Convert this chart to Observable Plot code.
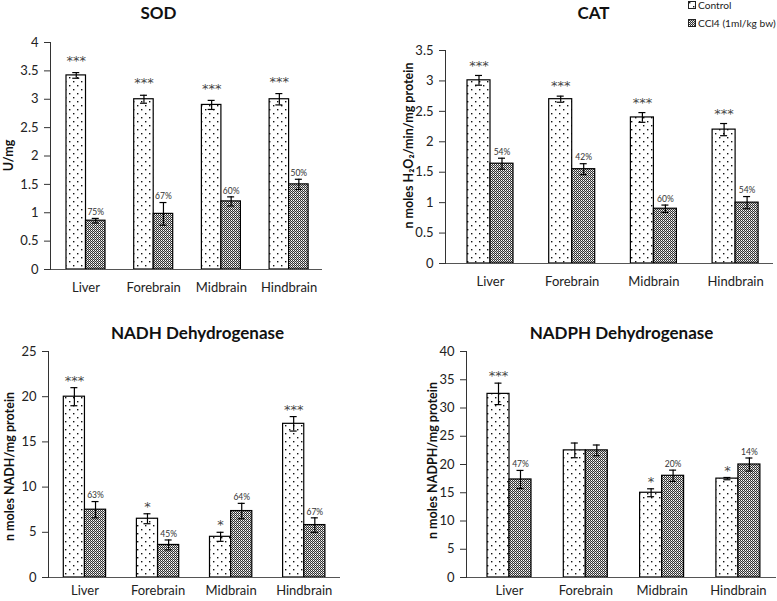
<!DOCTYPE html>
<html>
<head>
<meta charset="utf-8">
<script src="https://cdn.jsdelivr.net/npm/d3@7"></script>
<script src="https://cdn.jsdelivr.net/npm/@observablehq/plot@0.6"></script>
<style>
  html, body { margin: 0; padding: 0; background: #fff; }
  #root { position: relative; width: 777px; height: 601px; overflow: hidden; font-family: Lato, sans-serif; }
  .panel { position: absolute; }
  .legend { position: absolute; left: 688px; top: -4px; font-size: 10.2px; color: #222; line-height: 18px; }
  .legend div { display: flex; align-items: center; white-space: nowrap; }
  .legend svg { margin-right: 2px; }
</style>
</head>
<body>
<svg width="0" height="0" style="position:absolute">
  <defs>
    <pattern id="dots" patternUnits="userSpaceOnUse" width="8" height="8">
      <rect width="8" height="8" fill="#fff"/>
      <rect x="1" y="1" width="1.4" height="1.4" fill="#111"/>
      <rect x="5" y="5" width="1.4" height="1.4" fill="#111"/>
    </pattern>
    <pattern id="checks" patternUnits="userSpaceOnUse" width="2" height="2">
      <rect width="2" height="2" fill="#333"/>
      <rect x="1" y="0" width="1" height="1" fill="#fff"/>
      <rect x="0" y="1" width="1" height="1" fill="#bbb"/>
    </pattern>
  </defs>
</svg>
<div id="root"></div>
<script>
// ---------- data ----------
const categories = ["Liver", "Forebrain", "Midbrain", "Hindbrain"];
const seriesNames = ["Control", "CCl4 (1ml/kg bw)"];

// SOD
const sodControl = [3.42, 3.0, 2.9, 3.0];
const sodControlErr = [0.05, 0.07, 0.08, 0.1];
const sodCCl4 = [0.86, 0.98, 1.2, 1.5];
const sodCCl4Err = [0.04, 0.2, 0.08, 0.09];
const sodSig = ["***", "***", "***", "***"];
const sodPct = ["75%", "67%", "60%", "50%"];
const sodTicks = [0, 0.5, 1, 1.5, 2, 2.5, 3, 3.5, 4];

// CAT
const catControl = [3.01, 2.7, 2.4, 2.2];
const catControlErr = [0.08, 0.05, 0.08, 0.1];
const catCCl4 = [1.64, 1.55, 0.9, 1.0];
const catCCl4Err = [0.09, 0.09, 0.06, 0.1];
const catSig = ["***", "***", "***", "***"];
const catPct = ["54%", "42%", "60%", "54%"];
const catTicks = [0, 0.5, 1, 1.5, 2, 2.5, 3, 3.5];

// NADH Dehydrogenase
const nadhControl = [20.0, 6.5, 4.5, 17.0];
const nadhControlErr = [1.0, 0.55, 0.5, 0.8];
const nadhCCl4 = [7.5, 3.6, 7.35, 5.8];
const nadhCCl4Err = [0.9, 0.55, 0.85, 0.8];
const nadhSig = ["***", "*", "*", "***"];
const nadhPct = ["63%", "45%", "64%", "67%"];
const nadhTicks = [0, 5, 10, 15, 20, 25];

// NADPH Dehydrogenase
const nadphControl = [32.5, 22.5, 15.0, 17.5];
const nadphControlErr = [1.9, 1.3, 0.7, 0.2];
const nadphCCl4 = [17.35, 22.5, 18.0, 20.0];
const nadphCCl4Err = [1.6, 0.95, 1.0, 1.15];
const nadphSig = ["***", "", "*", "*"];
const nadphPct = ["47%", "", "20%", "14%"];
const nadphTicks = [0, 5, 10, 15, 20, 25, 30, 35, 40];

// ---------- drawing ----------
const root = document.getElementById("root");

function panel(cfg) {
  const {left, top, width, height, mL, mR, mT, mB, ticks, firstBar, step, barW,
         ctrl, ctrlErr, ccl, cclErr, sig, pct, title, titleX, titleY,
         yLabel, yLabelX, yLabelY, starDy, xPad} = cfg;
  const pi = 1 - (2 * barW) / step;
  const po = pi / 2;
  const r0 = firstBar - step * po;
  const r1 = r0 + 4 * step;
  const ctrlRows = categories.map((c, i) => ({cat: c, v: ctrl[i], e: ctrlErr[i], lab: sig[i]}));
  const cclRows = categories.map((c, i) => ({cat: c, v: ccl[i], e: cclErr[i], lab: pct[i]}));
  const capsOf = rows => rows.flatMap(d => [{cat: d.cat, y: d.v + d.e}, {cat: d.cat, y: d.v - d.e}]);
  const capHalf = 3.5;
  const frameCX = mL + (width - mL - mR) / 2;
  const frameCY = mT + (height - mT - mB) / 2;

  const chart = Plot.plot({
    width, height,
    marginLeft: mL, marginRight: mR, marginTop: mT, marginBottom: mB,
    style: {fontFamily: "Lato, sans-serif", fontSize: "13px", color: "#222", background: "transparent", overflow: "visible"},
    x: {type: "band", domain: categories, range: [r0, r1], paddingInner: pi, paddingOuter: po, round: false},
    y: {domain: [ticks[0], ticks[ticks.length - 1]]},
    marks: [
      Plot.axisY({ticks, tickFormat: d => String(d), tickSize: 6, tickPadding: 6, label: null, fontSize: 13, stroke: "#333"}),
      Plot.axisX({tickSize: 0, tickPadding: xPad, label: null, fontSize: 13}),
      Plot.barY(ctrlRows, {x: "cat", y: "v", insetRight: barW, fill: "url(#dots)", stroke: "#000", strokeWidth: 1.2}),
      Plot.barY(cclRows, {x: "cat", y: "v", insetLeft: barW, fill: "url(#checks)", stroke: "#000", strokeWidth: 1.2}),
      Plot.ruleY([0], {stroke: "#555", strokeWidth: 1}),
      Plot.frame({anchor: "left", stroke: "#333", strokeWidth: 1}),
      // error bars
      Plot.ruleX(ctrlRows, {x: "cat", y1: d => d.v - d.e, y2: d => d.v + d.e, dx: -barW / 2, stroke: "#000", strokeWidth: 1.2}),
      Plot.ruleX(cclRows, {x: "cat", y1: d => d.v - d.e, y2: d => d.v + d.e, dx: barW / 2, stroke: "#000", strokeWidth: 1.2}),
      Plot.tickY(capsOf(ctrlRows), {x: "cat", y: "y", insetLeft: barW / 2 - capHalf, insetRight: 1.5 * barW - capHalf, stroke: "#000", strokeWidth: 1.2}),
      Plot.tickY(capsOf(cclRows), {x: "cat", y: "y", insetLeft: 1.5 * barW - capHalf, insetRight: barW / 2 - capHalf, stroke: "#000", strokeWidth: 1.2}),
      // annotations
      Plot.text(ctrlRows, {x: "cat", y: d => d.v + d.e, text: "lab", dx: -barW / 2, dy: starDy, fontSize: 13, fontFamily: "DejaVu Sans", fill: "#444"}),
      Plot.text(cclRows, {x: "cat", y: d => d.v + d.e, text: "lab", dx: barW / 2, dy: -6, fontSize: 8.5, fill: "#333"}),
      // title and y label
      Plot.text([title], {frameAnchor: "top", text: d => d, textAnchor: "middle", lineAnchor: "middle", dx: titleX - frameCX, dy: titleY - mT, fontSize: 17, fontWeight: "bold", fill: "#111"}),
      Plot.text([yLabel], {frameAnchor: "left", text: d => d, textAnchor: "middle", lineAnchor: "middle", rotate: -90, dx: yLabelX - mL, dy: yLabelY - frameCY, fontSize: 12.5, fontWeight: "bold", fill: "#111"})
    ]
  });
  const div = document.createElement("div");
  div.className = "panel";
  div.style.left = left + "px";
  div.style.top = top + "px";
  div.style.width = width + "px";
  div.style.height = height + "px";
  div.appendChild(chart);
  root.appendChild(div);
}

panel({left: 0, top: 0, width: 390, height: 300, mL: 50, mR: 68, mT: 42, mB: 31,
  ticks: sodTicks, firstBar: 66, step: 67.7, barW: 19.5,
  ctrl: sodControl, ctrlErr: sodControlErr, ccl: sodCCl4, cclErr: sodCCl4Err, sig: sodSig, pct: sodPct,
  title: "SOD", titleX: 158, titleY: 13, yLabel: "U/mg", yLabelX: 8, yLabelY: 155, starDy: -12, xPad: 13});

panel({left: 390, top: 0, width: 387, height: 300, mL: 55, mR: 4, mT: 50, mB: 37,
  ticks: catTicks, firstBar: 77, step: 81.7, barW: 23,
  ctrl: catControl, ctrlErr: catControlErr, ccl: catCCl4, cclErr: catCCl4Err, sig: catSig, pct: catPct,
  title: "CAT", titleX: 203, titleY: 13, yLabel: "n moles H₂O₂/min/mg protein", yLabelX: 18, yLabelY: 145, starDy: -10, xPad: 13});

panel({left: 0, top: 300, width: 390, height: 301, mL: 48, mR: 50, mT: 51, mB: 24,
  ticks: nadhTicks, firstBar: 63.3, step: 73.1, barW: 21.15,
  ctrl: nadhControl, ctrlErr: nadhControlErr, ccl: nadhCCl4, cclErr: nadhCCl4Err, sig: nadhSig, pct: nadhPct,
  title: "NADH Dehydrogenase", titleX: 197, titleY: 33, yLabel: "n moles NADH/mg protein", yLabelX: 9, yLabelY: 166, starDy: -7, xPad: 8});

panel({left: 390, top: 300, width: 387, height: 301, mL: 76, mR: 1, mT: 51, mB: 24,
  ticks: nadphTicks, firstBar: 97, step: 76.3, barW: 22,
  ctrl: nadphControl, ctrlErr: nadphControlErr, ccl: nadphCCl4, cclErr: nadphCCl4Err, sig: nadphSig, pct: nadphPct,
  title: "NADPH Dehydrogenase", titleX: 231, titleY: 33, yLabel: "n moles NADPH/mg protein", yLabelX: 42, yLabelY: 160, starDy: -7, xPad: 8});

// legend
const legend = document.createElement("div");
legend.className = "legend";
legend.innerHTML = `
  <div><svg width="8" height="8"><rect x="0.5" y="0.5" width="7" height="7" fill="url(#dots)" stroke="#222"/></svg>${seriesNames[0]}</div>
  <div><svg width="8" height="8"><rect x="0.5" y="0.5" width="7" height="7" fill="url(#checks)" stroke="#222"/></svg>${seriesNames[1]}</div>`;
root.appendChild(legend);
</script>
</body>
</html>
